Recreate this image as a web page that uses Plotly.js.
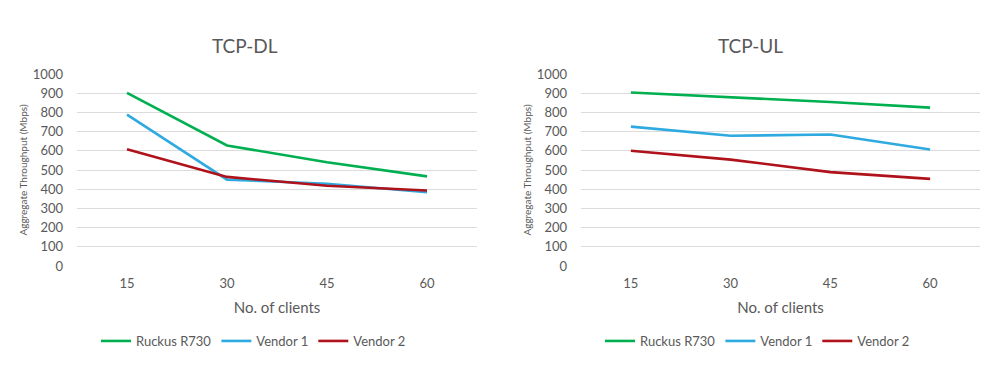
<!DOCTYPE html>
<html>
<head>
<meta charset="utf-8">
<script src="https://cdn.plot.ly/plotly-3.0.1.min.js"></script>
<style>html,body{margin:0;padding:0;background:#fff;}#chart{width:1000px;height:366px;}</style>
</head>
<body>
<div id="chart"></div>
<script>
const clients = ["15", "30", "45", "60"];
const seriesNames = ["Ruckus R730", "Vendor 1", "Vendor 2"];
const dlRuckus = [902, 628, 540, 467];
const dlVendor1 = [788, 450, 428, 384];
const dlVendor2 = [608, 464, 418, 393];
const ulRuckus = [904, 880, 854, 825];
const ulVendor1 = [726, 678, 685, 607];
const ulVendor2 = [600, 554, 489, 454];
const yTicks = [0, 100, 200, 300, 400, 500, 600, 700, 800, 900, 1000];
const chartTitles = ["TCP-DL", "TCP-UL"];
const xTitle = "No. of clients";
const yTitle = "Aggregate Throughput (Mbps)";

const colors = ["#00b050", "#2eaae1", "#b0121b"];
const FONT = "Lato, 'Open Sans', sans-serif";
const GREY = "#595959";

const traces = [];
[[dlRuckus, dlVendor1, dlVendor2], [ulRuckus, ulVendor1, ulVendor2]].forEach((set, k) => {
  set.forEach((vals, i) => {
    traces.push({
      type: "scatter", mode: "lines",
      x: clients, y: vals, name: seriesNames[i],
      xaxis: k === 0 ? "x" : "x2", yaxis: k === 0 ? "y" : "y2",
      legend: k === 0 ? "legend" : "legend2",
      line: {color: colors[i], width: 2.6},
      hoverinfo: "skip"
    });
  });
});

function xa(domain, anchor) {
  return {
    domain: domain, anchor: anchor, type: "category", range: [-0.5, 3.5],
    showgrid: false, zeroline: false, showline: false, ticks: "",
    tickfont: {family: FONT, size: 13, color: GREY},
    ticklabelstandoff: 8,
    title: {text: xTitle, font: {family: FONT, size: 15, color: GREY}, standoff: 12}
  };
}
function ya(domain, anchor) {
  return {
    domain: domain, anchor: anchor, range: [0, 1000], tickvals: yTicks,
    showgrid: true, gridcolor: "#dcdcdc", gridwidth: 1, zeroline: false, showline: false, ticks: "",
    tickfont: {family: FONT, size: 13, color: GREY},
    ticklabelstandoff: 13,
    title: {text: yTitle, font: {family: FONT, size: 10, color: GREY}, standoff: 3}
  };
}
const yDom = [1 - 266 / 366, 1 - 74 / 366];
const legendCommon = {
  orientation: "h", yanchor: "middle", xanchor: "left", y: 1 - 341 / 366,
  font: {family: FONT, size: 13, color: GREY}, bgcolor: "rgba(0,0,0,0)",
  itemwidth: 30, tracegroupgap: 0
};
const layout = {
  width: 1000, height: 366,
  margin: {l: 0, r: 0, t: 0, b: 0},
  paper_bgcolor: "#ffffff", plot_bgcolor: "#ffffff",
  showlegend: true,
  xaxis: xa([77 / 1000, 477 / 1000], "y"),
  yaxis: ya(yDom, "x"),
  xaxis2: xa([581 / 1000, 980 / 1000], "y2"),
  yaxis2: ya(yDom, "x2"),
  legend: Object.assign({x: 96 / 1000}, legendCommon),
  legend2: Object.assign({x: 600 / 1000}, legendCommon),
  annotations: [
    {text: chartTitles[0], x: 245 / 1000, y: 1 - 45 / 366, xref: "paper", yref: "paper", showarrow: false,
     xanchor: "center", yanchor: "middle", font: {family: FONT, size: 19, color: GREY}},
    {text: chartTitles[1], x: 750 / 1000, y: 1 - 45 / 366, xref: "paper", yref: "paper", showarrow: false,
     xanchor: "center", yanchor: "middle", font: {family: FONT, size: 19, color: GREY}}
  ]
};
Plotly.newPlot("chart", traces, layout, {displayModeBar: false, staticPlot: true});
</script>
</body>
</html>
